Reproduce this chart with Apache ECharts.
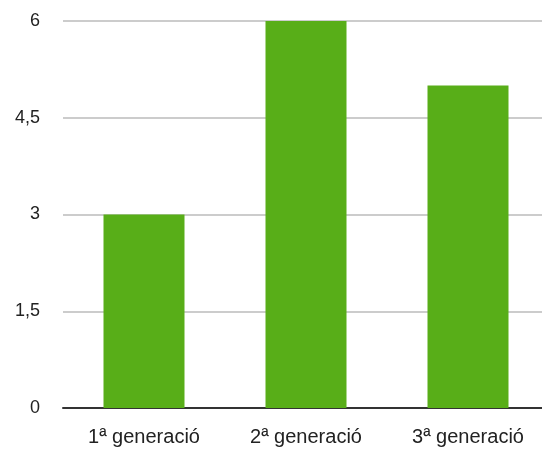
<!DOCTYPE html>
<html>
<head>
<meta charset="utf-8">
<script src="https://cdn.jsdelivr.net/npm/echarts@6/dist/echarts.min.js"></script>
<style>
  html, body { margin: 0; padding: 0; background: #fff; overflow: hidden; }
  /* the plot runs slightly past the right edge of the window */
  #chart { width: 549px; height: 452px; }
</style>
</head>
<body>
<div id="chart"></div>
<script>
// Categories and values for the bar chart
const categories = ['1ª generació', '2ª generació', '3ª generació'];
const values = [3, 6, 5];
const yTicks = [0, 1.5, 3, 4.5, 6];

const labelFont = '"Liberation Sans", Arial, Helvetica, sans-serif';

const chart = echarts.init(document.getElementById('chart'), null, { renderer: 'canvas' });

chart.setOption({
  animation: false,
  backgroundColor: '#ffffff',
  grid: { left: 63, top: 21, right: 0, bottom: 44, containLabel: false },
  xAxis: {
    type: 'category',
    data: categories,
    axisLine: { lineStyle: { color: '#333', width: 2 } },
    axisTick: { show: false },
    axisLabel: {
      color: '#222', fontSize: 20, margin: 19,
      fontFamily: labelFont,
      interval: 0
    }
  },
  yAxis: {
    type: 'value',
    min: yTicks[0],
    max: yTicks[yTicks.length - 1],
    interval: 1.5,
    axisLine: { show: false },
    axisTick: { show: false },
    splitLine: { lineStyle: { color: '#bbbbbb', width: 1.5 } },
    axisLabel: {
      color: '#222', fontSize: 18, margin: 23,
      fontFamily: labelFont,
      padding: [0, 0, 5, 0],
      formatter: v => String(v).replace('.', ',')
    }
  },
  series: [{
    type: 'bar',
    data: values,
    barWidth: '50%',
    itemStyle: { color: '#58ae18' }
  }]
});
</script>
</body>
</html>
